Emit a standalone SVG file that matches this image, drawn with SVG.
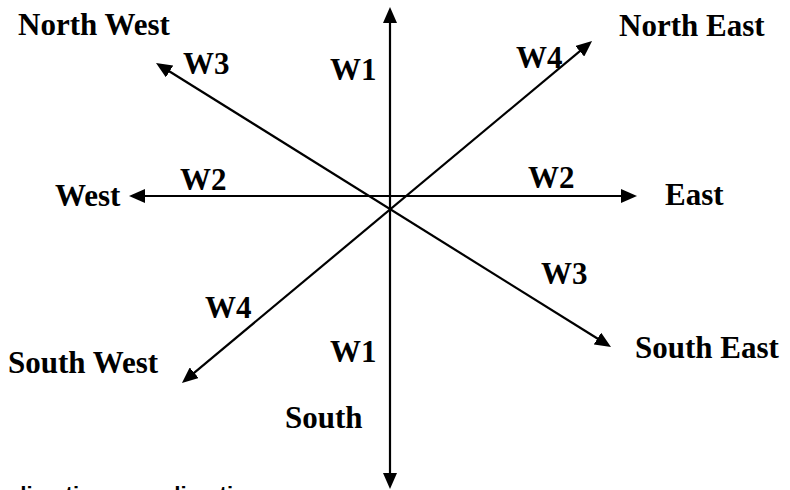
<svg xmlns="http://www.w3.org/2000/svg" width="790" height="490" viewBox="0 0 790 490">
<defs>
<style>
.lbl{font-family:"Liberation Serif","Times New Roman",serif;font-weight:bold;font-size:31px;fill:#000}
.cut{font-family:"Liberation Sans",Arial,sans-serif;font-weight:bold;font-size:22px;fill:#000}
.ax{stroke:#000;stroke-width:2.2;fill:none;marker-start:url(#ah);marker-end:url(#ah)}
</style>
<marker id="ah" viewBox="0 0 16 14" refX="8" refY="7" markerWidth="16" markerHeight="14" markerUnits="userSpaceOnUse" orient="auto-start-reverse">
<path d="M0,0 L16,7 L0,14 z" fill="#000"/>
</marker>
</defs>
<rect width="790" height="490" fill="#fff"/>
<g id="connectors">
<line class="ax" x1="390" y1="481" x2="390" y2="15"/>
<line class="ax" x1="137" y1="196" x2="629" y2="196"/>
<line class="ax" x1="604.2" y1="342.8" x2="162.8" y2="67.2"/>
<line class="ax" x1="188.1" y1="377.9" x2="585.9" y2="46.1"/>
</g>
<g id="north-west"><text class="lbl" x="18" y="35">North West</text></g>
<g id="north-east"><text class="lbl" x="619" y="36">North East</text></g>
<g id="west"><text class="lbl" x="55" y="206">West</text></g>
<g id="east"><text class="lbl" x="665" y="205">East</text></g>
<g id="south-west"><text class="lbl" x="8" y="373">South West</text></g>
<g id="south-east"><text class="lbl" x="635" y="358">South East</text></g>
<g id="south"><text class="lbl" x="285" y="428">South</text></g>
<g id="weights">
<text class="lbl" x="183" y="74">W3</text>
<text class="lbl" x="330" y="80">W1</text>
<text class="lbl" x="516" y="68">W4</text>
<text class="lbl" x="180" y="190">W2</text>
<text class="lbl" x="528" y="188">W2</text>
<text class="lbl" x="541" y="284">W3</text>
<text class="lbl" x="205" y="318">W4</text>
<text class="lbl" x="330" y="362">W1</text>
</g>
<g id="footer">
<text class="cut" x="13" y="502">direction</text>
<text class="cut" x="167" y="502">direction</text>
</g>
</svg>
